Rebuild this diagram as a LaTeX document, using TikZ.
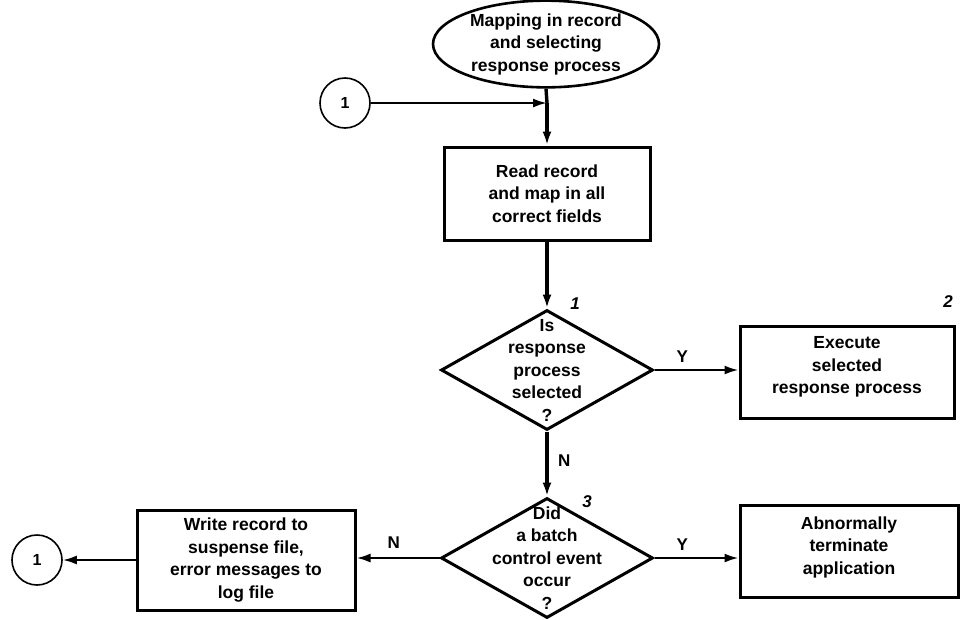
\documentclass[tikz,border=0pt]{standalone}
\usepackage{fontspec}
\setmainfont{Liberation Sans}
\usetikzlibrary{shapes.geometric,arrows.meta}
\begin{document}
\begin{tikzpicture}[x=1pt,y=-1pt,
  txt/.style={font=\fontsize{17.5}{22.5}\selectfont\bfseries,align=center},
  procbox/.style={draw,line width=3pt,rectangle,inner sep=0pt,txt},
  decision/.style={draw,line width=3pt,diamond,inner sep=0pt},
  connector/.style={draw,line width=1.6pt,circle,minimum size=50pt,inner sep=0pt,font=\fontsize{16}{18}\selectfont\bfseries},
  flow/.style={line width=3.4pt,-{Latex[length=14pt,width=9pt]}},
  thinflow/.style={line width=2.2pt,-{Latex[length=14pt,width=9pt]}},
  yn/.style={font=\fontsize{17}{19}\selectfont\bfseries},
  stepnum/.style={font=\fontsize{17}{19}\selectfont\bfseries\itshape}
]
\useasboundingbox (0,0) rectangle (961,619);

% terminal
\node[draw,ellipse,line width=2.6pt,minimum width=226pt,minimum height=78pt,inner sep=0pt,txt]
  (start) at (546,44) {Mapping in record\\and selecting\\response process};

% entry connector
\node[connector] (c1) at (345,103) {1};
\coordinate (join) at (547,103);

% processing steps
\node[procbox,minimum width=206pt,minimum height=93pt] (read) at (547,193.5)
  {Read record\\and map in all\\correct fields};

\node[decision,minimum width=212pt,minimum height=120pt,
  label={[txt,name=d1text]center:Is\\response\\process\\selected\\?}] (d1) at (547,370) {};

\node[procbox,minimum width=214pt,minimum height=92pt] (exec) at (847,372)
  {};
\node[txt] (exectext) at (847,367) {Execute\\selected\\response process};

\node[decision,minimum width=212pt,minimum height=120pt,
  label={[txt,name=d3text]center:Did\\a batch\\control event\\occur\\?}] (d3) at (547,558) {};

\node[procbox,minimum width=218pt,minimum height=100pt] (write) at (246,560)
  {Write record to\\suspense file,\\error messages to\\log file};

\node[procbox,minimum width=218pt,minimum height=92pt] (abn) at (849,551)
  {};
\node[txt] (abntext) at (849,547) {Abnormally\\terminate\\application};

\node[connector] (c2) at (37,560) {1};

% step numbers
\node[stepnum] (n1) at (575,304) {1};
\node[stepnum] (n2) at (948,302) {2};
\node[stepnum] (n3) at (587,502) {3};

% connectors
\draw[line width=3.4pt] (start.south) -- (join);
\draw[flow] (join) -- (read.north);
\draw[thinflow] (c1.east) -- (join);
\draw[flow] (read.south) -- (d1.north);
\draw[thinflow] (d1.east) -- (d1.east -| exec.west)
  node[yn,pos=0.33,above=3pt] (y1) {Y};
\draw[flow] (d1.south) -- (d3.north)
  node[yn,pos=0.45,right=6pt] (nlab1) {N};
\draw[thinflow] (d3.east) -- (d3.east -| abn.west)
  node[yn,pos=0.33,above=3pt] (y2) {Y};
\draw[thinflow] (d3.west) -- (d3.west -| write.east)
  node[yn,pos=0.55,above=5pt] (nlab2) {N};
\draw[thinflow] (write.west) -- (write.west -| c2.east);
\end{tikzpicture}
\end{document}
